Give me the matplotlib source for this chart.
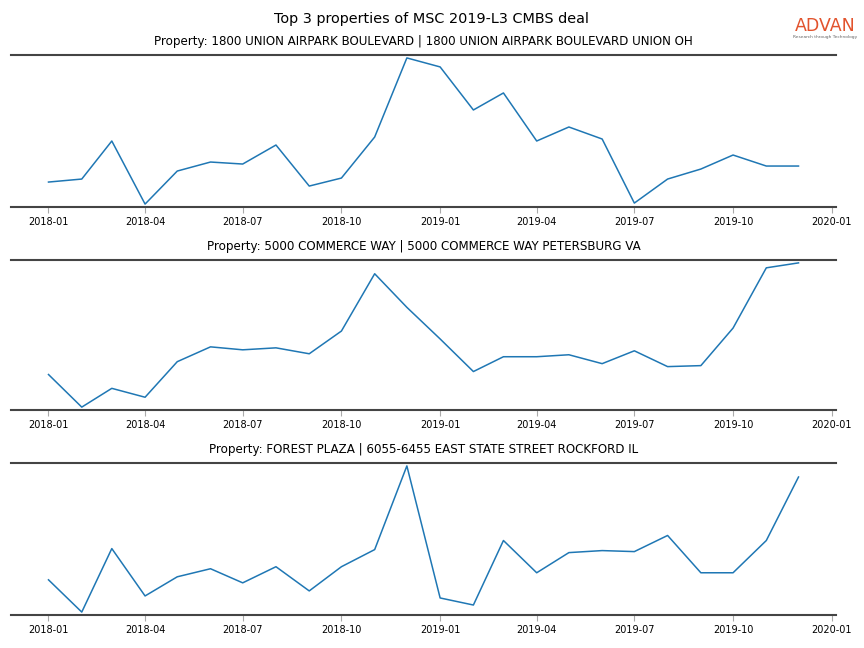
import matplotlib
matplotlib.use("Agg")
import matplotlib.pyplot as plt
import pandas as pd

months = pd.date_range("2018-01-01", "2019-12-01", freq="MS")

titles = [
    "Property: 1800 UNION AIRPARK BOULEVARD | 1800 UNION AIRPARK BOULEVARD UNION OH",
    "Property: 5000 COMMERCE WAY | 5000 COMMERCE WAY PETERSBURG VA",
    "Property: FOREST PLAZA | 6055-6455 EAST STATE STREET ROCKFORD IL",
]

visits_1 = [22, 25, 63, 0, 33, 42, 40, 59, 18, 26, 67, 146,
            137, 94, 111, 63, 77, 65, 1, 25, 35, 49, 38, 38]
visits_2 = [33, 0, 19, 10, 46, 61, 58, 60, 54, 77, 135, 101,
            69, 36, 51, 51, 53, 44, 57, 41, 42, 80, 141, 146]
visits_3 = [32, 0, 63, 16, 35, 43, 29, 45, 21, 45, 62, 145,
            14, 7, 71, 39, 59, 61, 60, 76, 39, 39, 71, 134]

series = [visits_1, visits_2, visits_3]

tick_dates = pd.to_datetime(["2018-01-01", "2018-04-01", "2018-07-01", "2018-10-01",
                             "2019-01-01", "2019-04-01", "2019-07-01", "2019-10-01",
                             "2020-01-01"])
tick_labels = ["2018-01", "2018-04", "2018-07", "2018-10", "2019-01",
               "2019-04", "2019-07", "2019-10", "2020-01"]

fig = plt.figure(figsize=(8.64, 6.48), dpi=100)
fig.suptitle("Top 3 properties of MSC 2019-L3 CMBS deal", fontsize=10.4, y=0.982)

left, right = 11 / 864, 836 / 864
tops = [55, 260, 463]
bottoms = [207, 410, 615]
for i, (vals, title) in enumerate(zip(series, titles)):
    y0 = 1 - bottoms[i] / 648
    h = (bottoms[i] - tops[i]) / 648
    ax = fig.add_axes([left, y0, right - left, h])
    ax.plot(months, vals, color="#1f77b4", linewidth=1.1)
    ax.margins(x=0.05, y=0.02)
    ax.set_title(title, fontsize=8.6, pad=7)
    ax.set_xticks(tick_dates)
    ax.set_xticklabels(tick_labels, fontsize=7)
    ax.set_yticks([])
    for s in ["left", "right"]:
        ax.spines[s].set_visible(False)
    for s in ["top", "bottom"]:
        ax.spines[s].set_color("#444444")
        ax.spines[s].set_linewidth(1.5)
    ax.tick_params(axis="x", colors="#aaaaaa", labelcolor="black", length=4, width=0.8)

fig.text(0.955, 0.960, "ADVAN", color="#E2532D", fontsize=12.5, ha="center", va="center",
         fontweight="normal")
fig.text(0.955, 0.943, "Research through Technology", color="#666666", fontsize=3.2,
         ha="center", va="center")

fig.savefig("out.png", dpi=100)
